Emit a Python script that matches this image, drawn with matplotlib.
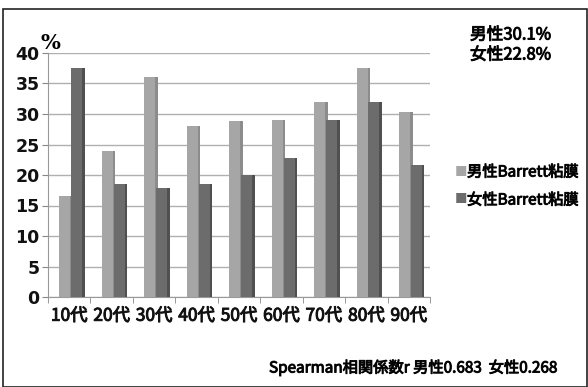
import numpy as np
import matplotlib
matplotlib.use('Agg')
from matplotlib import pyplot as plt
from matplotlib.patches import Rectangle
from matplotlib import patheffects as pe

plt.rcParams['font.family'] = ['Noto Sans CJK JP', 'DejaVu Sans']

ages = ['10代', '20代', '30代', '40代', '50代', '60代', '70代', '80代', '90代']
male = [16.5, 24.0, 36.0, 28.0, 28.8, 29.0, 32.0, 37.5, 30.3]
female = [37.6, 18.6, 17.8, 18.6, 20.0, 22.8, 29.0, 32.0, 21.7]
yticks = [0, 5, 10, 15, 20, 25, 30, 35, 40]

male_front, male_side = '#a6a6a6', '#8c8c8c'
fem_front, fem_side = '#6c6c6c', '#505050'

# fake heavier strokes for the CJK face
thick = [pe.withStroke(linewidth=0.7, foreground='#111111')]

fig = plt.figure(figsize=(5.88, 3.87), dpi=100)
fig.patches.append(Rectangle((0.005, 0.0), 0.993, 0.978, transform=fig.transFigure,
                             fill=False, edgecolor='#222222', linewidth=1.2))

ax = fig.add_axes([48/588, 1 - 297/387, (430 - 48)/588, (297 - 53)/387])
x = np.arange(len(ages))
w = 0.26
side = 0.06

for off, vals, fc, sc in [(-0.1, male, male_front, male_side),
                          (0.18, female, fem_front, fem_side)]:
    ax.bar(x + off, vals, width=w, color=fc, edgecolor='none', zorder=3)
    ax.bar(x + off + w/2 + side/2, vals, width=side, color=sc,
           edgecolor='none', zorder=3)

ax.set_xlim(-0.5, len(ages) - 0.5)
ax.set_ylim(0, 40)
ax.set_yticks(yticks)
ax.set_yticklabels([str(v) for v in yticks], fontsize=12.5, fontweight='bold',
                   family='DejaVu Sans', color='#111111')
ax.set_xticks(np.arange(len(ages) + 1) - 0.5, minor=True)
ax.set_xticks(x)
ax.set_xticklabels(ages, fontsize=12.5, color='#111111')
for lb in ax.get_xticklabels():
    lb.set_path_effects(thick)
ax.tick_params(axis='x', which='major', length=0, pad=7)
ax.tick_params(axis='x', which='minor', length=4, color='#888888')
ax.tick_params(axis='y', length=4, color='#888888', pad=2)
ax.yaxis.grid(True, color='#b0b0b0', linewidth=1.0, zorder=0)
for s in ['top', 'right']:
    ax.spines[s].set_visible(False)
ax.spines['left'].set_color('#999999')
ax.spines['bottom'].set_color('#999999')

ax.text(-0.02, 1.0, '%', transform=ax.transAxes, fontsize=15, fontweight='bold',
        family='DejaVu Serif', ha='left', va='bottom')

# legend
fig.text(455/588, 1 - 172/387, '■', color=male_front, fontsize=9, va='center')
fig.text(467/588, 1 - 172/387, '男性Barrett粘膜', fontsize=11, va='center',
         path_effects=thick)
fig.text(455/588, 1 - 200/387, '■', color=fem_front, fontsize=9, va='center')
fig.text(467/588, 1 - 200/387, '女性Barrett粘膜', fontsize=11, va='center',
         path_effects=thick)

fig.text(470/588, 1 - 35/387, '男性30.1%', fontsize=12, va='center', path_effects=thick)
fig.text(470/588, 1 - 55/387, '女性22.8%', fontsize=12, va='center', path_effects=thick)

fig.text(557/588, 1 - 368/387, 'Spearman相関係数r 男性0.683  女性0.268',
         fontsize=11, ha='right', va='center', path_effects=thick)

fig.savefig('out.png', dpi=100, facecolor='white')
